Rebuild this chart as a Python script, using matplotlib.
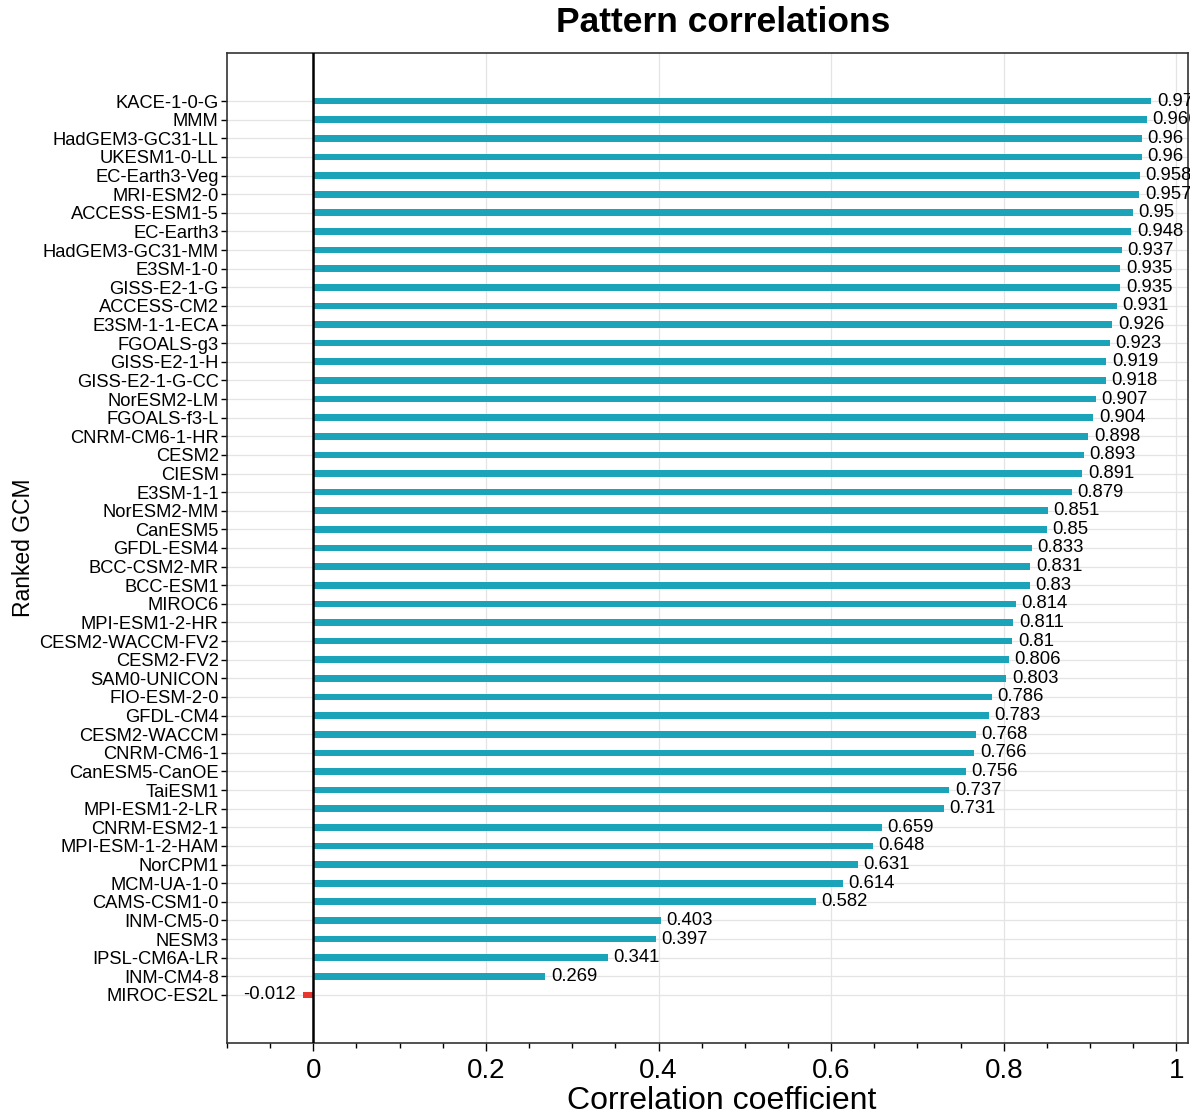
import matplotlib
matplotlib.use("Agg")
import matplotlib.pyplot as plt
from matplotlib.ticker import MultipleLocator, FuncFormatter

plt.rcParams["font.family"] = ["Liberation Sans", "DejaVu Sans"]

models = [
    "KACE-1-0-G", "MMM", "HadGEM3-GC31-LL", "UKESM1-0-LL", "EC-Earth3-Veg",
    "MRI-ESM2-0", "ACCESS-ESM1-5", "EC-Earth3", "HadGEM3-GC31-MM", "E3SM-1-0",
    "GISS-E2-1-G", "ACCESS-CM2", "E3SM-1-1-ECA", "FGOALS-g3", "GISS-E2-1-H",
    "GISS-E2-1-G-CC", "NorESM2-LM", "FGOALS-f3-L", "CNRM-CM6-1-HR", "CESM2",
    "CIESM", "E3SM-1-1", "NorESM2-MM", "CanESM5", "GFDL-ESM4",
    "BCC-CSM2-MR", "BCC-ESM1", "MIROC6", "MPI-ESM1-2-HR", "CESM2-WACCM-FV2",
    "CESM2-FV2", "SAM0-UNICON", "FIO-ESM-2-0", "GFDL-CM4", "CESM2-WACCM",
    "CNRM-CM6-1", "CanESM5-CanOE", "TaiESM1", "MPI-ESM1-2-LR", "CNRM-ESM2-1",
    "MPI-ESM-1-2-HAM", "NorCPM1", "MCM-UA-1-0", "CAMS-CSM1-0", "INM-CM5-0",
    "NESM3", "IPSL-CM6A-LR", "INM-CM4-8", "MIROC-ES2L",
]
correlations = [
    0.971, 0.966, 0.96, 0.96, 0.958,
    0.957, 0.95, 0.948, 0.937, 0.935,
    0.935, 0.931, 0.926, 0.923, 0.919,
    0.918, 0.907, 0.904, 0.898, 0.893,
    0.891, 0.879, 0.851, 0.85, 0.833,
    0.831, 0.83, 0.814, 0.811, 0.81,
    0.806, 0.803, 0.786, 0.783, 0.768,
    0.766, 0.756, 0.737, 0.731, 0.659,
    0.648, 0.631, 0.614, 0.582, 0.403,
    0.397, 0.341, 0.269, -0.012,
]

POS_COLOR = "#1ba3b9"
NEG_COLOR = "#e8372f"

fig = plt.figure(figsize=(11.90, 11.16), dpi=100)
ax = fig.add_axes([227 / 1190, 1 - 1043 / 1116, (1188 - 227) / 1190, (1043 - 53) / 1116])

ypos = list(range(len(models)))
colors = [POS_COLOR if v >= 0 else NEG_COLOR for v in correlations]
ax.barh(ypos, correlations, height=0.36, color=colors, zorder=3)

for y, v in zip(ypos, correlations):
    if v >= 0:
        ax.annotate(f"{v:g}", (v, y), xytext=(4, 0), textcoords="offset points",
                    ha="left", va="center", fontsize=13.3, color="black",
                    annotation_clip=False)
    else:
        ax.annotate(f"{v:g}", (v, y), xytext=(-5, 0), textcoords="offset points",
                    ha="right", va="center", fontsize=13.3, color="black",
                    annotation_clip=False)

ax.axvline(0, color="black", lw=1.8, zorder=4)

ax.set_xlim(-0.1, (1188 - 313) / 863.3)
ax.set_ylim(len(models) - 1 + 2.58, -2.58)
ax.set_yticks(ypos)
ax.set_yticklabels(models, fontsize=13.2)

ax.xaxis.set_major_locator(MultipleLocator(0.2))
ax.xaxis.set_minor_locator(MultipleLocator(0.05))
ax.xaxis.set_major_formatter(FuncFormatter(lambda x, p: f"{x:g}"))
ax.tick_params(axis="x", which="major", labelsize=20, length=6, width=1, direction="out", pad=5)
ax.tick_params(axis="x", which="minor", length=3.5, width=1, direction="out")
ax.tick_params(axis="y", which="major", length=4, width=1, direction="out", pad=2)

ax.grid(True, axis="both", which="major", color="#e4e4e4", lw=0.9, zorder=0)
ax.set_axisbelow(True)
for s in ax.spines.values():
    s.set_linewidth(1.2)
    s.set_color("#333333")

ax.set_xlabel("Correlation coefficient", fontsize=23)
ax.xaxis.set_label_coords((722 - 227) / 961, -0.043)
ax.set_ylabel("Ranked GCM", fontsize=16.5, labelpad=3)
fig.text(723 / 1190, 1 - 23 / 1116, "Pattern correlations", ha="center", va="center",
         fontsize=25.5, fontweight="bold")

fig.savefig("out.png", dpi=100, facecolor="white")
